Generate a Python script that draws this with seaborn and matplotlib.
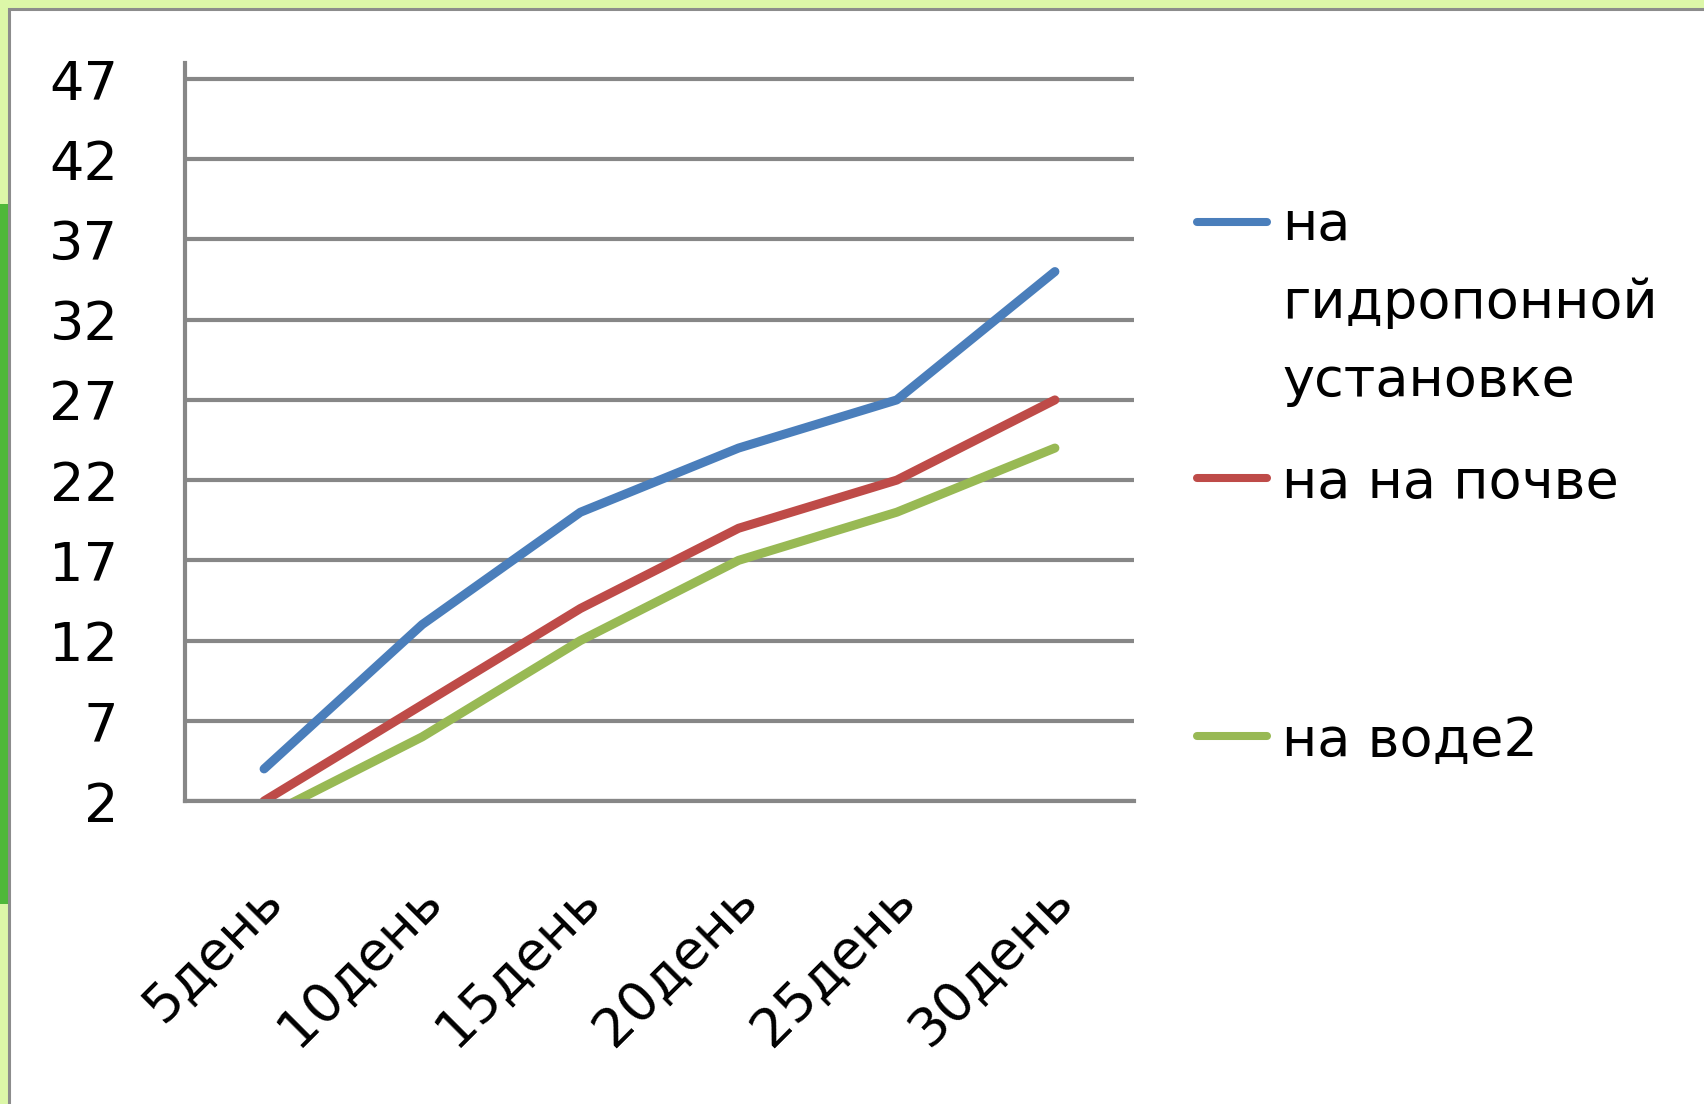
import numpy as np
import pandas as pd
import matplotlib.pyplot as plt
import matplotlib.transforms as mtransforms
from matplotlib.lines import Line2D
from matplotlib.patches import Rectangle
import seaborn as sns

sns.set_style('white')
plt.rcParams['font.family'] = ['DejaVu Sans']
plt.rcParams['text.color'] = 'black'
plt.rcParams['xtick.labelcolor'] = 'black'
plt.rcParams['ytick.labelcolor'] = 'black'

# data
days = ['5день', '10день', '15день', '20день', '25день', '30день']
hydro = [4, 13, 20, 24, 27, 35]
soil = [2, 8, 14, 19, 22, 27]
water = [1, 6, 12, 17, 20, 24]
series_names = ['на\nгидропонной\nустановке', 'на на почве', 'на воде2']
y_ticks = [2, 7, 12, 17, 22, 27, 32, 37, 42, 47]

colors = ['#4a7ebb', '#be4b48', '#98b954']
grid_col = '#878787'

df = pd.DataFrame({
    'day': days * 3,
    'value': hydro + soil + water,
    'series': [series_names[0]] * 6 + [series_names[1]] * 6 + [series_names[2]] * 6,
})

W, H = 1704, 1104
fig = plt.figure(figsize=(W / 100, H / 100), dpi=100)
fig.patch.set_facecolor('#dcf7a8')

# leafy strip on the left + white slide panel
fig.add_artist(Rectangle((0, 200 / H), 9 / W, 700 / H, transform=fig.transFigure,
                         facecolor='#4fb83a', edgecolor='none', zorder=0))
fig.add_artist(Rectangle((9 / W, -0.01), 1.0, 1 - 9 / H + 0.01, transform=fig.transFigure,
                         facecolor='white', edgecolor='#8c8c8c', linewidth=2.2, zorder=0))

ax = fig.add_axes([185 / W, 1 - 801 / H, (1134 - 185) / W, (801 - 63) / H])
ax.set_facecolor('none')

sns.lineplot(data=df, x='day', y='value', hue='series', palette=dict(zip(series_names, colors)),
             hue_order=series_names, sort=False, linewidth=6.5, legend=False, ax=ax,
             solid_capstyle='round')

ax.set_xlim(-0.5, len(days) - 0.5)
ax.set_ylim(2, 48)
ax.set_yticks(y_ticks)
ax.set_xticks(range(len(days)))
ax.set_xticks(np.arange(-0.5, len(days), 1.0), minor=True)
ax.set_xlabel('')
ax.set_ylabel('')

ax.yaxis.grid(True, color=grid_col, linewidth=3)
ax.set_axisbelow(True)
for side in ['top', 'right']:
    ax.spines[side].set_visible(False)
for side in ['left', 'bottom']:
    ax.spines[side].set_color(grid_col)
    ax.spines[side].set_linewidth(3)

ax.tick_params(axis='y', direction='out', length=18, width=3, color=grid_col,
               labelsize=39, pad=30)
ax.tick_params(axis='x', which='major', length=0, labelsize=39, pad=52)
ax.tick_params(axis='x', which='minor', direction='out', length=15, width=3, color=grid_col)

offset = mtransforms.ScaledTranslation(-8 / 100, 0, fig.dpi_scale_trans)
for lab in ax.get_xticklabels():
    lab.set_rotation(45)
    lab.set_ha('right')
    lab.set_va('top')
    lab.set_rotation_mode('anchor')
    lab.set_transform(lab.get_transform() + offset)

# legend drawn by hand to keep Excel's uneven spacing
line_gap = 77.5
legend_y = [222, 478, 736]
text_base = [241, 498, 756]
for name, col, ly, ty in zip(series_names, colors, legend_y, text_base):
    fig.add_artist(Line2D([1197 / W, 1267 / W], [1 - ly / H, 1 - ly / H], transform=fig.transFigure,
                          color=col, linewidth=5.8, solid_capstyle='round'))
    last_base = ty + line_gap * name.count('\n')
    fig.text(1282 / W, 1 - last_base / H, name, fontsize=39, va='baseline', ha='left',
             linespacing=1.64)

fig.savefig('out.png', dpi=100, facecolor=fig.get_facecolor())
